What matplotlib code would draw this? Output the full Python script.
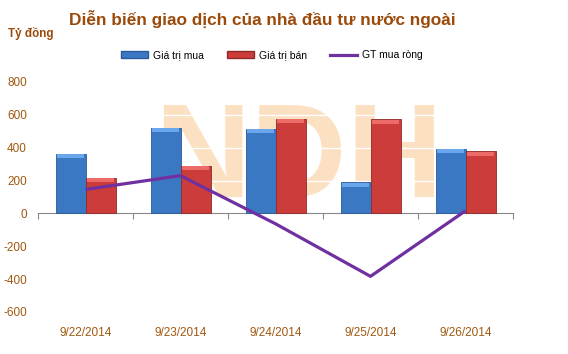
import matplotlib
matplotlib.use("Agg")
import matplotlib.pyplot as plt
import numpy as np
from matplotlib.lines import Line2D
from matplotlib.patches import Patch

DATES = ["9/22/2014", "9/23/2014", "9/24/2014", "9/25/2014", "9/26/2014"]
BUY = [364, 521, 513, 189, 393]
SELL = [218, 291, 576, 572, 377]
NET = [146, 230, -63, -383, 16]
YTICKS = [-600, -400, -200, 0, 200, 400, 600, 800]

BROWN = "#9C4A0A"
TICK_C = "#A0580F"
BLUE = "#3B78C4"
RED = "#CC3C3A"
PURPLE = "#7030A0"

plt.rcParams["font.family"] = ["Liberation Sans", "DejaVu Sans"]

fig = plt.figure(figsize=(5.68, 3.54), dpi=100)
ax = fig.add_axes([38 / 568, 1 - 312 / 354, (513 - 38) / 568, (312 - 82) / 354])
ax.set_facecolor("none")

x = np.arange(len(DATES))
w = 30 / 95
buy = np.array(BUY)
sell = np.array(SELL)
ax.bar(x - w / 2, buy, w, color=BLUE, edgecolor="#2A5A99", lw=0.6, zorder=3)
ax.bar(x + w / 2, sell, w, color=RED, edgecolor="#8E2A28", lw=0.6, zorder=3)
# lighter bevel on bar tops
cap = 24
ax.bar(x - w / 2, cap, w * 0.92, bottom=buy - cap - 2, color="#6AA6EC", lw=0, zorder=3.5)
ax.bar(x + w / 2, cap, w * 0.92, bottom=sell - cap - 2, color="#EC6A67", lw=0, zorder=3.5)
ax.plot(x, NET, color=PURPLE, lw=2.3, zorder=4, solid_capstyle="butt")

# faint NDH watermark behind the bars
ax.text((299 - 38) / 475, 98, "NDH", ha="center", va="baseline",
        transform=ax.get_yaxis_transform(), fontsize=96, fontweight="bold",
        color="#F9C98E", alpha=0.55, zorder=0.5)
for yv in [200, 400, 600]:
    ax.axhline(yv, color="white", lw=1, zorder=1)

ax.set_xlim(-0.5, len(DATES) - 0.5)
ax.set_ylim(-600, 800)
ax.set_yticks(YTICKS)
ax.set_yticklabels([str(v) for v in YTICKS], color=TICK_C, fontsize=8.5)
ax.tick_params(axis="y", length=0, pad=8)
ax.set_xticks(x)
ax.set_xticklabels(DATES, color=TICK_C, fontsize=8.5)
ax.tick_params(axis="x", length=0, pad=11)
for s in ax.spines.values():
    s.set_visible(False)

# zero axis with category boundary ticks
zero = ax.secondary_xaxis(600 / 1400)
zero.set_xticks(np.arange(len(DATES) + 1) - 0.5)
zero.set_xticklabels([])
zero.tick_params(length=4, color="#888888", width=0.8, direction="out")
zero.spines["bottom"].set_color("#888888")
zero.spines["bottom"].set_linewidth(0.8)

fig.text(262 / 568, 1 - 19 / 354, "Diễn biến giao dịch của nhà đầu tư nước ngoài",
         ha="center", va="center", fontsize=12.4, fontweight="bold", color=BROWN)
fig.text(8 / 568, 1 - 34 / 354, "Tỷ đồng", ha="left", va="center",
         fontsize=8.4, fontweight="bold", color=BROWN)

handles = [Patch(facecolor=BLUE, edgecolor="#2A5A99", label="Giá trị mua"),
           Patch(facecolor=RED, edgecolor="#8E2A28", label="Giá trị bán"),
           Line2D([], [], color=PURPLE, lw=2.3, label="GT mua ròng")]
fig.legend(handles=handles, loc="center", bbox_to_anchor=(272 / 568, 1 - 55 / 354),
           ncol=3, frameon=False, fontsize=7.5, handlelength=2.6, handleheight=0.6,
           columnspacing=2.2, handletextpad=0.5)

fig.savefig("out.png", dpi=100)
